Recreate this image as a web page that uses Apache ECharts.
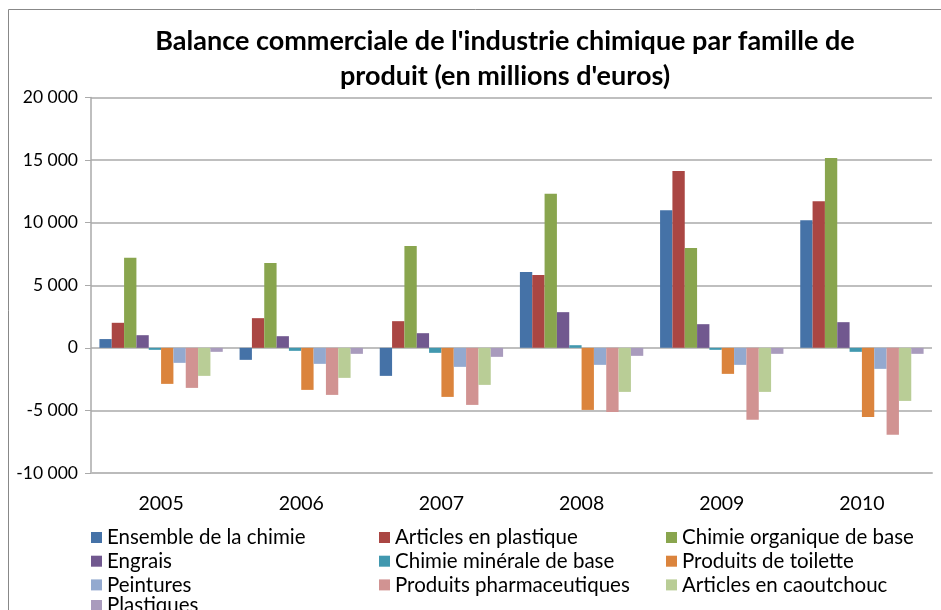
<!DOCTYPE html>
<html>
<head>
<meta charset="utf-8">
<title>Balance commerciale</title>
<script src="https://cdn.jsdelivr.net/npm/echarts@6/dist/echarts.min.js"></script>
<style>
html,body{margin:0;padding:0;background:#fff;}
#main{width:941px;height:610px;}
</style>
</head>
<body>
<div id="main"></div>
<script type="text/javascript">
// années
var years = ['2005', '2006', '2007', '2008', '2009', '2010'];

// valeurs (millions d'euros)
var ensembleChimie   = [700, -960, -2240, 6050, 11000, 10200];
var articlesPlast    = [2000, 2370, 2130, 5810, 14120, 11720];
var chimieOrganique  = [7200, 6770, 8130, 12310, 7970, 15160];
var engrais          = [1010, 930, 1170, 2850, 1890, 2050];
var chimieMinerale   = [-160, -240, -400, 210, -160, -320];
var produitsToilette = [-2880, -3360, -3920, -4960, -2080, -5520];
var peintures        = [-1200, -1280, -1520, -1360, -1360, -1680];
var pharma           = [-3200, -3760, -4560, -5120, -5750, -6950];
var caoutchouc       = [-2240, -2400, -2960, -3520, -3520, -4240];
var plastiques       = [-320, -480, -720, -640, -480, -480];

var names = ['Ensemble de la chimie', 'Articles en plastique', 'Chimie organique de base',
    'Engrais', 'Chimie minérale de base', 'Produits de toilette',
    'Peintures', 'Produits pharmaceutiques', 'Articles en caoutchouc', 'Plastiques'];
var values = [ensembleChimie, articlesPlast, chimieOrganique, engrais, chimieMinerale,
    produitsToilette, peintures, pharma, caoutchouc, plastiques];
var colors = ['#4572A7', '#AA4643', '#89A54E', '#71588F', '#4198AF',
    '#DB843D', '#93A9CF', '#D19392', '#B9CD96', '#A99BBD'];

var font = 'Lato, "DejaVu Sans", sans-serif';

function fmt(v) {
    var s = Math.abs(v).toString().replace(/\B(?=(\d{3})+(?!\d))/g, ' ');
    return (v < 0 ? '-' : '') + s;
}

var myChart = echarts.init(document.getElementById('main'));

var series = [];
for (var i = 0; i < names.length; i++) {
    series.push({
        name: names[i],
        type: 'bar',
        data: values[i],
        barGap: '0%',
        barCategoryGap: '12%',
        itemStyle: {color: colors[i]}
    });
}

// une colonne de légende (Excel range la légende en 3 colonnes)
function legendCol(list, left, top) {
    return {
        data: list,
        orient: 'vertical',
        left: left,
        top: top,
        itemWidth: 11,
        itemHeight: 11,
        itemGap: 2.7,
        itemStyle: {borderWidth: 0},
        icon: 'rect',
        textStyle: {fontFamily: font, fontSize: 20.5, color: '#000', lineHeight: 20}
    };
}

var option = {
    color: colors,
    animation: false,
    title: {
        text: "Balance commerciale de l'industrie chimique par famille de\nproduit (en millions d'euros)",
        left: 500,
        top: 19,
        textAlign: 'center',
        textStyle: {fontFamily: font, fontSize: 27, fontWeight: 'bold', color: '#000', lineHeight: 35}
    },
    graphic: [{
        type: 'rect',
        shape: {x: 8.5, y: 9.5, width: 1000, height: 700},
        style: {fill: 'none', stroke: '#888', lineWidth: 1}
    }],
    legend: [
        legendCol([names[0], names[3], names[6]], 86, 522),
        legendCol([names[9]], 86, 590),
        legendCol([names[1], names[4], names[7]], 374, 522),
        legendCol([names[2], names[5], names[8]], 661, 522)
    ],
    grid: {left: 91, right: 9, top: 97.5, bottom: 137, containLabel: false},
    xAxis: [
        {
            type: 'category',
            data: years,
            axisLine: {show: false},
            axisTick: {show: false},
            axisLabel: {fontFamily: font, fontSize: 19.5, color: '#000', margin: 21}
        },
        {
            type: 'category',
            data: years,
            position: 'bottom',
            axisLine: {onZero: true, lineStyle: {color: '#bbb', width: 2}},
            axisTick: {inside: true, length: 7, lineStyle: {color: '#999'}},
            axisLabel: {show: false}
        },
        {
            type: 'category',
            data: years,
            position: 'bottom',
            axisLine: {show: false, onZero: true},
            axisTick: {inside: true, alignWithLabel: true, length: 5, lineStyle: {color: '#bbb'}},
            axisLabel: {show: false}
        }
    ],
    yAxis: {
        type: 'value',
        min: -10000,
        max: 20000,
        interval: 5000,
        axisLine: {show: true, lineStyle: {color: '#aaa', width: 1.5}},
        axisTick: {show: true, length: 6, lineStyle: {color: '#aaa'}},
        axisLabel: {fontFamily: font, fontSize: 17.5, color: '#000', margin: 13, formatter: fmt},
        splitLine: {lineStyle: {color: '#aaa', width: 1.5}}
    },
    series: series
};

myChart.setOption(option);
</script>
</body>
</html>
